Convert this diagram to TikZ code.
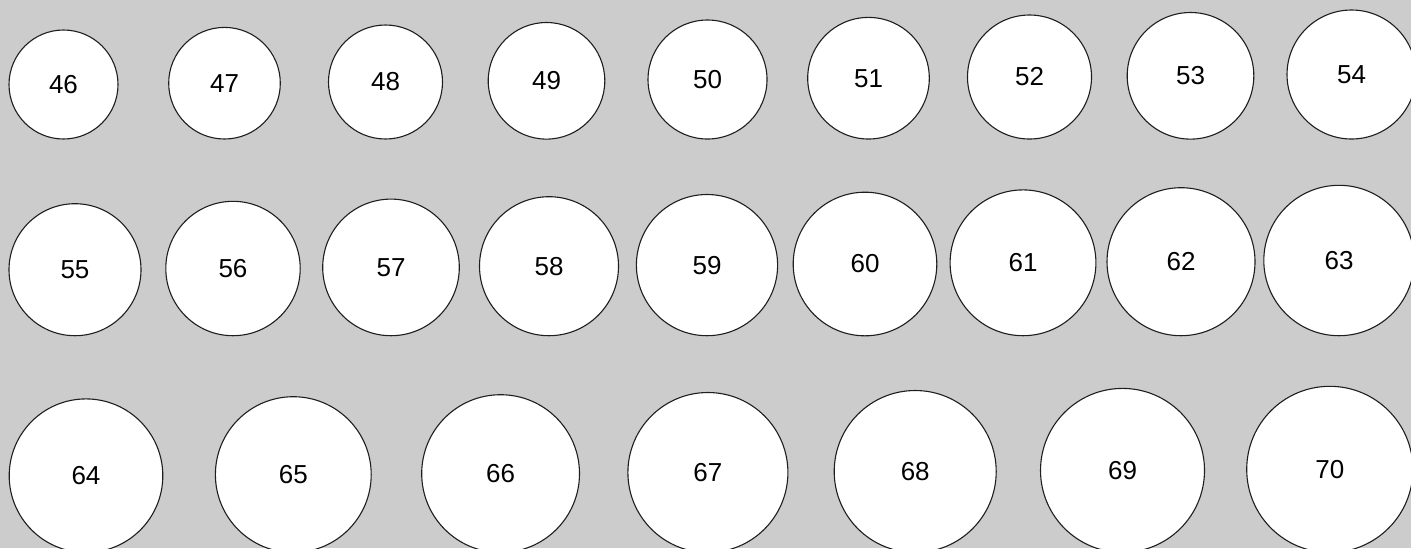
\documentclass[tikz,border=0pt]{standalone}
\usepackage{fontspec}
\setmainfont{Liberation Sans}
\usepackage{tikz}
\usetikzlibrary{positioning}
\usepackage{xcolor}
\definecolor{backdrop}{RGB}{204, 204, 204}
\definecolor{rim}{RGB}{30, 30, 30}

\begin{document}
\begin{tikzpicture}[x=0.5pt, y=-0.5pt,
    ball/.style={draw=rim, line width=0.55pt, fill=white, circle, inner sep=0pt, font=\fontsize{13}{15}\selectfont}]
    \path[use as bounding box, clip] (0,0) rectangle (1411,548);
    \fill[backdrop] (0,0) rectangle (1411,548);

    % first row
    \node[ball, minimum size=54.5pt] (n46) at (63.5,84.5) {46};
    \node[ball, minimum size=55.8pt] (n47) at (224.5,83.2) {47};
    \node[ball, minimum size=57pt] (n48) at (385.5,82) {48};
    \node[ball, minimum size=58.3pt] (n49) at (546.5,80.8) {49};
    \node[ball, minimum size=59.5pt] (n50) at (707.5,79.5) {50};
    \node[ball, minimum size=60.8pt] (n51) at (868.5,78.2) {51};
    \node[ball, minimum size=62pt] (n52) at (1029.5,77) {52};
    \node[ball, minimum size=63.3pt] (n53) at (1190.5,75.8) {53};
    \node[ball, minimum size=64.5pt] (n54) at (1351.5,74.5) {54};

    % second row
    \node[ball, minimum size=66pt] (n55) at (75,269.7) {55};
    \node[ball, minimum size=67.2pt] (n56) at (233,268.5) {56};
    \node[ball, minimum size=68.3pt] (n57) at (391,267.4) {57};
    \node[ball, minimum size=69.5pt] (n58) at (549,266.2) {58};
    \node[ball, minimum size=70.6pt] (n59) at (707,265.1) {59};
    \node[ball, minimum size=71.8pt] (n60) at (865,264) {60};
    \node[ball, minimum size=72.9pt] (n61) at (1023,262.8) {61};
    \node[ball, minimum size=74pt] (n62) at (1181,261.7) {62};
    \node[ball, minimum size=75.2pt] (n63) at (1339,260.5) {63};

    % third row
    \node[ball, minimum size=76.8pt] (n64) at (86,475.7) {64};
    \node[ball, minimum size=77.9pt] (n65) at (293.3,474.6) {65};
    \node[ball, minimum size=78.9pt] (n66) at (500.6,473.6) {66};
    \node[ball, minimum size=80pt] (n67) at (707.9,472.5) {67};
    \node[ball, minimum size=81pt] (n68) at (915.2,471.5) {68};
    \node[ball, minimum size=82pt] (n69) at (1122.5,470.4) {69};
    \node[ball, minimum size=83.1pt] (n70) at (1329.8,469.4) {70};
\end{tikzpicture}
\end{document}
